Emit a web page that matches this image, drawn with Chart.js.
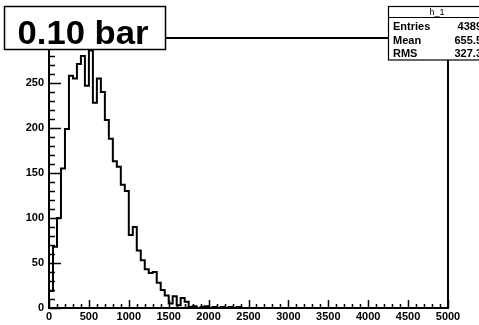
<!DOCTYPE html>
<html><head><meta charset="utf-8">
<script src="https://cdn.jsdelivr.net/npm/chart.js@4.4.1/dist/chart.umd.min.js"></script>
<style>html,body{margin:0;padding:0;background:#fff;overflow:hidden}#wrap{width:479px;height:325px;position:relative}</style>
</head><body><div id="wrap"><canvas id="c" width="479" height="325"></canvas></div>
<script>
// ---- data ----
const histTitle = "0.10 bar";
const histName = "h_1";
const binWidth = 50;
const xMin = 0;
const xMax = 5000;
const yMax = 300;
const counts = [
  0, 19, 68, 100, 155, 199, 258, 255, 271, 280,
  247, 286, 228, 255, 240, 209, 188, 163, 157, 137,
  130, 81, 90, 64, 53, 43, 39, 40, 28, 20,
  14, 5, 13, 3, 11, 7, 1, 2, 0, 1,
  2, 0, 1, 0, 1, 0, 1, 0, 1, 0,
  0, 0, 0, 0, 0, 0, 0, 0, 0, 0,
  0, 0, 0, 0, 0, 0, 0, 0, 0, 0,
  0, 0, 0, 0, 0, 0, 0, 0, 0, 0,
  0, 0, 0, 0, 0, 0, 0, 0, 0, 0,
  0, 0, 0, 0, 0, 0, 0, 0, 0, 0
];
const xMajorStep = 500;
const xMinorStep = 100;
const yMajorStep = 50;
const yMinorStep = 10;
const statLabels = ["Entries", "Mean", "RMS"];
const statValues = ["4389", "655.5", "327.3"];

// step points: left edge of each bin, plus the closing right edge
const points = counts.map((c, i) => ({x: xMin + i * binWidth, y: c}));
points.push({x: xMin + counts.length * binWidth, y: counts[counts.length - 1]});

const FONT = '"Liberation Sans", Arial, Helvetica, sans-serif';

const rootPlugin = {
  id: 'rootStyle',
  beforeDraw(chart) {
    const ctx = chart.ctx;
    ctx.save();
    ctx.fillStyle = '#fff';
    ctx.fillRect(0, 0, chart.width, chart.height);
    ctx.restore();
  },
  afterDatasetsDraw(chart) {
    const ctx = chart.ctx;
    const a = chart.chartArea;
    const xs = chart.scales.x, ys = chart.scales.y;
    ctx.save();
    ctx.strokeStyle = '#000';
    ctx.lineWidth = 1.5;
    ctx.beginPath();
    for (let v = xMin; v <= xMax; v += xMinorStep) {
      const px = Math.round(xs.getPixelForValue(v)) + 0.5;
      const len = (v % xMajorStep === 0) ? 8 : 4;
      ctx.moveTo(px, a.bottom);
      ctx.lineTo(px, a.bottom - len);
    }
    for (let v = 0; v <= yMax; v += yMinorStep) {
      const py = Math.round(ys.getPixelForValue(v)) + 0.5;
      const len = (v % yMajorStep === 0) ? 12 : 6;
      ctx.moveTo(a.left, py);
      ctx.lineTo(a.left + len, py);
    }
    ctx.stroke();
    // frame top and right
    ctx.lineWidth = 2;
    ctx.beginPath();
    ctx.moveTo(a.left, a.top);
    ctx.lineTo(a.right, a.top);
    ctx.lineTo(a.right, a.bottom);
    ctx.stroke();
    ctx.restore();
  },
  afterDraw(chart) {
    const ctx = chart.ctx;
    ctx.save();
    // title box
    ctx.fillStyle = '#fff';
    ctx.fillRect(4, 6, 162, 44);
    ctx.strokeStyle = '#000';
    ctx.lineWidth = 1.5;
    ctx.strokeRect(4.5, 6.5, 161, 43);
    ctx.fillStyle = '#000';
    ctx.font = 'bold 33px ' + FONT;
    ctx.textAlign = 'center';
    ctx.textBaseline = 'alphabetic';
    ctx.translate(83, 44);
    ctx.scale(1.05, 1);
    ctx.fillText(histTitle, 0, 0);
    ctx.restore();

    // stats box
    ctx.save();
    ctx.fillStyle = '#fff';
    ctx.fillRect(388, 6, 100, 54);
    ctx.strokeStyle = '#000';
    ctx.lineWidth = 1.2;
    ctx.strokeRect(388.5, 6.5, 100, 53.5);
    ctx.beginPath();
    ctx.moveTo(388, 17.5);
    ctx.lineTo(490, 17.5);
    ctx.stroke();
    ctx.fillStyle = '#000';
    ctx.font = '9px ' + FONT;
    ctx.textAlign = 'center';
    ctx.fillText(histName, 437, 15);
    ctx.font = 'bold 11px ' + FONT;
    const baselines = [30, 43.5, 57];
    statLabels.forEach((lab, i) => {
      ctx.textAlign = 'left';
      ctx.fillText(lab, 393, baselines[i]);
      ctx.textAlign = 'right';
      ctx.fillText(statValues[i], 482, baselines[i]);
    });
    ctx.restore();
  }
};

new Chart(document.getElementById('c'), {
  type: 'line',
  data: {
    datasets: [{
      data: points,
      stepped: 'after',
      borderColor: '#000',
      borderWidth: 2,
      pointRadius: 0,
      fill: false,
      tension: 0
    }]
  },
  options: {
    responsive: false,
    animation: false,
    devicePixelRatio: 1,
    parsing: true,
    layout: {padding: {left: 0, right: 31, top: 38, bottom: 0}},
    plugins: {legend: {display: false}, tooltip: {enabled: false}, title: {display: false}},
    scales: {
      x: {
        type: 'linear', min: xMin, max: xMax,
        afterFit(s) { s.height = 17; },
        grid: {display: false, drawTicks: false},
        border: {display: true, color: '#000', width: 2},
        ticks: {stepSize: xMajorStep, autoSkip: false, maxRotation: 0, color: '#000', padding: 2,
                callback: v => String(v),
                font: {family: FONT, size: 11, weight: 'bold'}}
      },
      y: {
        type: 'linear', min: 0, max: yMax,
        afterFit(s) { s.width = 49; },
        grid: {display: false, drawTicks: false},
        border: {display: true, color: '#000', width: 2},
        ticks: {stepSize: yMajorStep, autoSkip: false, color: '#000', padding: 5,
                callback: v => String(v),
                font: {family: FONT, size: 11, weight: 'bold'}}
      }
    }
  },
  plugins: [rootPlugin]
});
</script>
</body></html>
